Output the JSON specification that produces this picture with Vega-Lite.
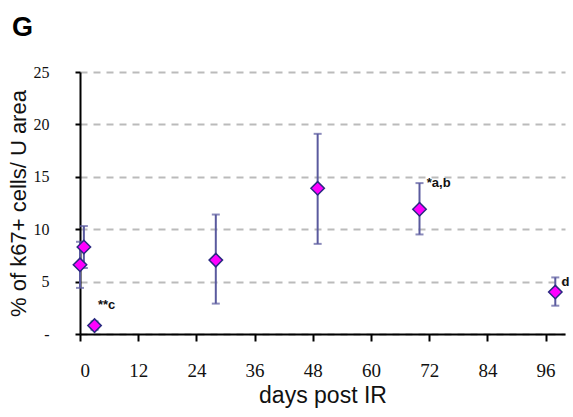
{
  "$schema": "https://vega.github.io/schema/vega-lite/v6.json",
  "autosize": "none",
  "width": 485,
  "height": 262,
  "padding": {"left": 80, "top": 72, "right": 8, "bottom": 83},
  "background": "white",
  "title": {
    "text": "G",
    "anchor": "start",
    "frame": "group",
    "dx": -68,
    "offset": 22,
    "fontSize": 27,
    "fontWeight": "bold",
    "font": "Liberation Sans",
    "color": "black"
  },
  "datasets": {
    "pts": [
      {"day": 0, "pct": 6.6, "lo": 4.4, "hi": 8.8},
      {"day": 0.8, "pct": 8.3, "lo": 6.3, "hi": 10.3},
      {"day": 3, "pct": 0.8, "lo": 0.4, "hi": 1.2},
      {"day": 28, "pct": 7.05, "lo": 2.9, "hi": 11.4},
      {"day": 49, "pct": 13.9, "lo": 8.6, "hi": 19.1},
      {"day": 70, "pct": 11.9, "lo": 9.5, "hi": 14.4},
      {"day": 98, "pct": 4.0, "lo": 2.7, "hi": 5.4}
    ],
    "notes": [
      {"day": 3.7, "pct": 2.8, "label": "**c"},
      {"day": 71.5, "pct": 14.4, "label": "*a,b"},
      {"day": 99.3, "pct": 5.0, "label": "d"}
    ]
  },
  "layer": [
    {
      "data": {"name": "pts"},
      "mark": {"type": "rule", "color": "#5a5a9e", "strokeWidth": 2},
      "encoding": {
        "x": {
          "field": "day", "type": "quantitative",
          "scale": {"domain": [0, 100], "nice": false, "zero": false},
          "axis": {
            "values": [0, 12, 24, 36, 48, 60, 72, 84, 96],
            "title": "days post IR",
            "titleFont": "Liberation Sans", "titleFontSize": 23, "titleFontWeight": "normal",
            "titleColor": "#111", "titlePadding": 4,
            "labelFont": "Liberation Serif", "labelFontSize": 19, "labelColor": "#111",
            "labelPadding": 20,
            "domainColor": "black", "domainWidth": 2,
            "tickColor": "black", "tickWidth": 2, "tickSize": 7,
            "grid": false
          }
        },
        "y": {
          "field": "lo", "type": "quantitative",
          "scale": {"domain": [0, 25], "nice": false},
          "axis": {
            "values": [0, 5, 10, 15, 20, 25],
            "labelExpr": "datum.value == 0 ? '-' : datum.label",
            "title": "% of k67+ cells/ U area",
            "titleFont": "Liberation Sans", "titleFontSize": 22, "titleFontWeight": "normal",
            "titleColor": "#111", "titlePadding": 3,
            "labelFont": "Liberation Serif", "labelFontSize": 16, "labelColor": "#111",
            "labelPadding": 26,
            "domainColor": "black", "domainWidth": 2,
            "tickColor": "black", "tickWidth": 2, "tickSize": 5,
            "grid": true, "gridColor": "#bbbbbb", "gridDash": [7, 6], "gridWidth": 2
          }
        },
        "y2": {"field": "hi"}
      }
    },
    {
      "data": {"name": "pts"},
      "mark": {"type": "tick", "orient": "horizontal", "color": "#5a5a9e", "thickness": 2, "size": 8},
      "encoding": {
        "x": {"field": "day", "type": "quantitative"},
        "y": {"field": "lo", "type": "quantitative"}
      }
    },
    {
      "data": {"name": "pts"},
      "mark": {"type": "tick", "orient": "horizontal", "color": "#5a5a9e", "thickness": 2, "size": 8},
      "encoding": {
        "x": {"field": "day", "type": "quantitative"},
        "y": {"field": "hi", "type": "quantitative"}
      }
    },
    {
      "data": {"name": "pts"},
      "mark": {"type": "point", "shape": "diamond", "filled": true, "fill": "#ff00ff", "stroke": "#2a2a80", "strokeWidth": 1.5, "size": 180, "opacity": 1},
      "encoding": {
        "x": {"field": "day", "type": "quantitative"},
        "y": {"field": "pct", "type": "quantitative"}
      }
    },
    {
      "data": {"name": "notes"},
      "mark": {"type": "text", "align": "left", "baseline": "middle", "font": "Liberation Sans", "fontSize": 13, "fontWeight": "bold", "color": "#111"},
      "encoding": {
        "x": {"field": "day", "type": "quantitative"},
        "y": {"field": "pct", "type": "quantitative"},
        "text": {"field": "label"}
      }
    }
  ],
  "config": {"view": {"stroke": null}}
}
